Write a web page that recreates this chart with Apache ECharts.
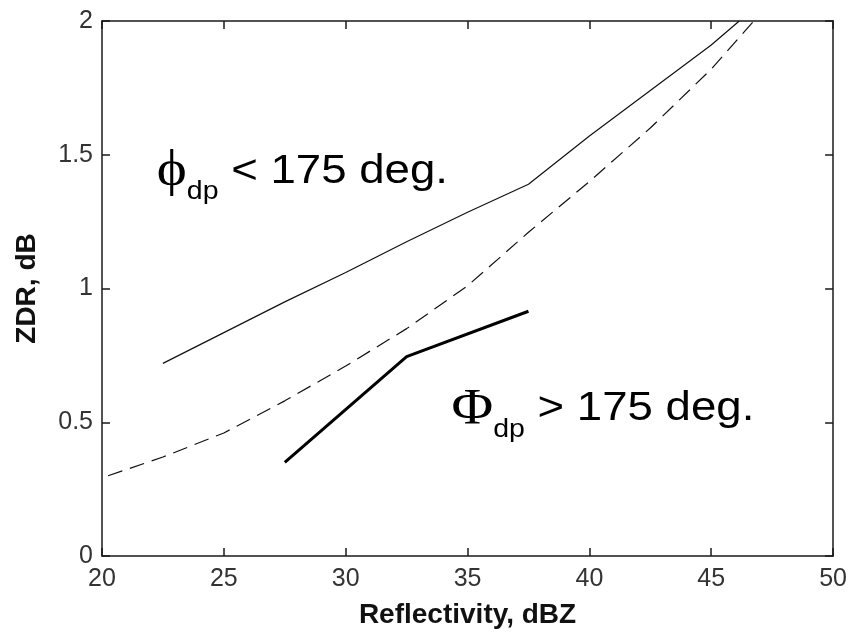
<!DOCTYPE html>
<html><head><meta charset="utf-8">
<script src="https://cdn.jsdelivr.net/npm/echarts@6/dist/echarts.min.js"></script>
<style>html,body{margin:0;padding:0;background:#fff}#c{width:850px;height:634px}</style>
</head><body><div id="c"></div>
<script>
// ---- data ----
const xMin = 20, xMax = 50, xStep = 5;
const yMin = 0, yMax = 2, yStep = 0.5;
const xName = 'Reflectivity, dBZ';
const yName = 'ZDR, dB';
const solidX = [22.5, 25, 27.5, 30, 32.5, 35, 37.5, 40, 42.5, 45, 46.15];
const solidY = [0.72, 0.835, 0.95, 1.06, 1.175, 1.285, 1.39, 1.57, 1.74, 1.91, 2.0];
const dashX = [20.25, 22.5, 25, 27.5, 30, 32.5, 35, 37.5, 40, 42.5, 45, 46.75];
const dashY = [0.30, 0.37, 0.46, 0.58, 0.71, 0.85, 1.01, 1.21, 1.40, 1.60, 1.82, 2.0];
const thickX = [27.5, 32.5, 37.5];
const thickY = [0.35, 0.745, 0.915];
const note1 = {sym: 'ϕ', sub: 'dp', text: ' < 175 deg.', x: 22.25, y: 1.437};
const note2 = {sym: 'Φ', sub: 'dp', text: ' > 175 deg.', x: 34.34, y: 0.548};

const zip = (a, b) => a.map((v, i) => [v, b[i]]);
const chart = echarts.init(document.getElementById('c'), null, {renderer: 'canvas'});
const axisCol = '#1a1a1a';
const labelStyle = {fontFamily: 'Liberation Sans, Arial, sans-serif', fontSize: 25, color: '#333'};
const nameStyle = {fontFamily: 'Liberation Sans, Arial, sans-serif', fontSize: 28, fontWeight: 'bold', color: '#111'};
const baseAxis = {
  type: 'value', splitLine: {show: false},
  axisLine: {show: true, onZero: false, lineStyle: {color: axisCol, width: 1.5}},
  axisTick: {show: true, inside: true, length: 8, lineStyle: {color: axisCol, width: 1.5}}
};
chart.setOption({
  animation: false,
  backgroundColor: '#fff',
  grid: {left: 102, right: 16, top: 21, bottom: 73, containLabel: false},
  xAxis: [
    Object.assign({}, baseAxis, {position: 'bottom', min: xMin, max: xMax, interval: xStep,
      name: xName, nameLocation: 'middle', nameGap: 45, nameTextStyle: nameStyle,
      axisLabel: Object.assign({margin: 11}, labelStyle)}),
    Object.assign({}, baseAxis, {position: 'top', min: xMin, max: xMax, interval: xStep, axisLabel: {show: false}})
  ],
  yAxis: [
    Object.assign({}, baseAxis, {position: 'left', min: yMin, max: yMax, interval: yStep,
      name: yName, nameLocation: 'middle', nameGap: 61, nameTextStyle: nameStyle,
      axisLabel: Object.assign({margin: 9}, labelStyle)}),
    Object.assign({}, baseAxis, {position: 'right', min: yMin, max: yMax, interval: yStep, axisLabel: {show: false}})
  ],
  series: [
    {type: 'line', data: zip(solidX, solidY), symbol: 'none', lineStyle: {color: '#111', width: 1.2}},
    {type: 'line', data: zip(dashX, dashY), symbol: 'none', lineStyle: {color: '#111', width: 1.2, type: [15, 8]}},
    {type: 'line', data: zip(thickX, thickY), symbol: 'none', lineStyle: {color: '#000', width: 3}}
  ]
});

function noteGraphic(n, symSize, sx) {
  const p = chart.convertToPixel({xAxisIndex: 0, yAxisIndex: 0}, [n.x, n.y]);
  return {
    type: 'text', x: p[0], y: p[1], scaleX: sx, originX: 0, originY: 0,
    style: {
      text: '{s|' + n.sym + '}{b|' + n.sub + '}{m|' + n.text + '}',
      verticalAlign: 'middle', align: 'left',
      rich: {
        s: {fontFamily: 'Liberation Serif, Times New Roman, serif', fontSize: symSize, fill: '#000'},
        b: {fontFamily: 'Liberation Sans, Arial, sans-serif', fontSize: 25, fill: '#000', padding: [42, 0, 0, 0]},
        m: {fontFamily: 'Liberation Sans, Arial, sans-serif', fontSize: 40, fill: '#000'}
      }
    }
  };
}
chart.setOption({graphic: [noteGraphic(note1, 50, 1.14), noteGraphic(note2, 50, 1.14)]});
</script>
</body></html>
